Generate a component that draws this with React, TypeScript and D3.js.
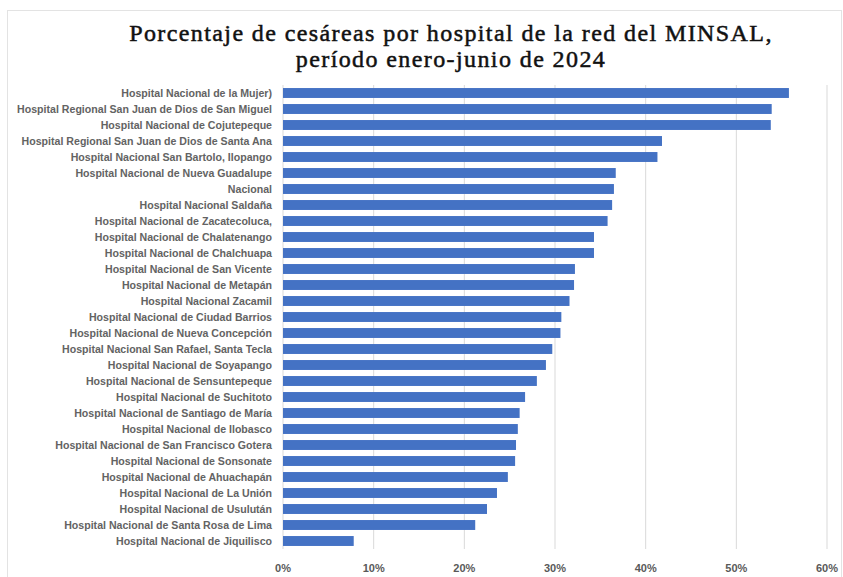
import React, { useEffect, useRef } from 'react';
import * as d3 from 'd3';

const hospitals = [
  'Hospital Nacional de la Mujer)',
  'Hospital Regional San Juan de Dios de San Miguel',
  'Hospital Nacional de Cojutepeque',
  'Hospital Regional San Juan de Dios de Santa Ana',
  'Hospital Nacional San Bartolo, Ilopango',
  'Hospital Nacional de Nueva Guadalupe',
  'Nacional',
  'Hospital Nacional Saldaña',
  'Hospital Nacional de Zacatecoluca,',
  'Hospital Nacional de Chalatenango',
  'Hospital Nacional de Chalchuapa',
  'Hospital Nacional de San Vicente',
  'Hospital Nacional de Metapán',
  'Hospital Nacional Zacamil',
  'Hospital Nacional de Ciudad Barrios',
  'Hospital Nacional de Nueva Concepción',
  'Hospital Nacional San Rafael, Santa Tecla',
  'Hospital Nacional de Soyapango',
  'Hospital Nacional de Sensuntepeque',
  'Hospital Nacional de Suchitoto',
  'Hospital Nacional de Santiago de María',
  'Hospital Nacional de Ilobasco',
  'Hospital Nacional de San Francisco Gotera',
  'Hospital Nacional de Sonsonate',
  'Hospital Nacional de Ahuachapán',
  'Hospital Nacional de La Unión',
  'Hospital Nacional de Usulután',
  'Hospital Nacional de Santa Rosa de Lima',
  'Hospital Nacional de Jiquilisco',
];

const cesareas = [
  0.558, 0.539, 0.538, 0.418, 0.413, 0.367, 0.365, 0.363, 0.358, 0.343,
  0.343, 0.322, 0.321, 0.316, 0.307, 0.306, 0.297, 0.29, 0.28, 0.267,
  0.261, 0.259, 0.257, 0.256, 0.248, 0.236, 0.225, 0.212, 0.078,
];

const xTicks = [0, 0.1, 0.2, 0.3, 0.4, 0.5, 0.6];

const titleLines = [
  'Porcentaje de cesáreas por hospital de la red del MINSAL,',
  'período enero-junio de 2024',
];

const W = 843;
const H = 577;

const App = () => {
  const svgRef = useRef<SVGSVGElement>(null);

  useEffect(() => {
    const svg = d3.select(svgRef.current);
    svg.selectAll('*').remove();

    // chart frame
    svg
      .append('rect')
      .attr('x', 7.5)
      .attr('y', 10.5)
      .attr('width', 834)
      .attr('height', 580)
      .attr('fill', '#fff')
      .attr('stroke', '#e3e3e3');

    const x = d3.scaleLinear().domain([0, 0.6]).range([283, 827]);
    const y = d3
      .scaleBand()
      .domain(hospitals)
      .range([85, 549])
      .paddingInner(0.38)
      .paddingOuter(0.19);

    // gridlines
    svg
      .append('g')
      .selectAll('line')
      .data(xTicks)
      .join('line')
      .attr('x1', d => x(d))
      .attr('x2', d => x(d))
      .attr('y1', 85)
      .attr('y2', 549)
      .attr('stroke', '#d9d9d9')
      .attr('stroke-width', 1);

    // bars
    svg
      .append('g')
      .selectAll('rect')
      .data(cesareas)
      .join('rect')
      .attr('x', x(0))
      .attr('y', (d, i) => y(hospitals[i]) as number)
      .attr('width', d => x(d) - x(0))
      .attr('height', y.bandwidth())
      .attr('fill', '#4472c4');

    // category labels
    svg
      .append('g')
      .selectAll('text')
      .data(hospitals)
      .join('text')
      .attr('x', 272)
      .attr('y', d => (y(d) as number) + y.bandwidth() / 2)
      .attr('dy', '0.35em')
      .attr('text-anchor', 'end')
      .attr('font-family', 'Liberation Sans, Arial, sans-serif')
      .attr('font-size', 10.6)
      .attr('font-weight', 'bold')
      .attr('fill', '#636363')
      .text(d => d);

    // x tick labels
    const fmt = d3.format('.0%');
    svg
      .append('g')
      .selectAll('text')
      .data(xTicks)
      .join('text')
      .attr('x', d => x(d))
      .attr('y', 572)
      .attr('text-anchor', 'middle')
      .attr('font-family', 'Liberation Sans, Arial, sans-serif')
      .attr('font-size', 11)
      .attr('font-weight', 'bold')
      .attr('fill', '#595959')
      .text(d => fmt(d));

    // title
    svg
      .append('g')
      .selectAll('text')
      .data(titleLines)
      .join('text')
      .attr('x', 451)
      .attr('y', (d, i) => 41 + i * 26)
      .attr('text-anchor', 'middle')
      .attr('font-family', 'Liberation Serif, DejaVu Serif, serif')
      .attr('font-size', 24)
      .attr('letter-spacing', 1.4)
      .attr('fill', '#111')
      .attr('stroke', '#111')
      .attr('stroke-width', 0.5)
      .text(d => d);
  }, []);

  return (
    <svg
      ref={svgRef}
      width={W}
      height={H}
      style={{ position: 'absolute', left: 0, top: 0, background: '#fff' }}
    />
  );
};

export default App;
